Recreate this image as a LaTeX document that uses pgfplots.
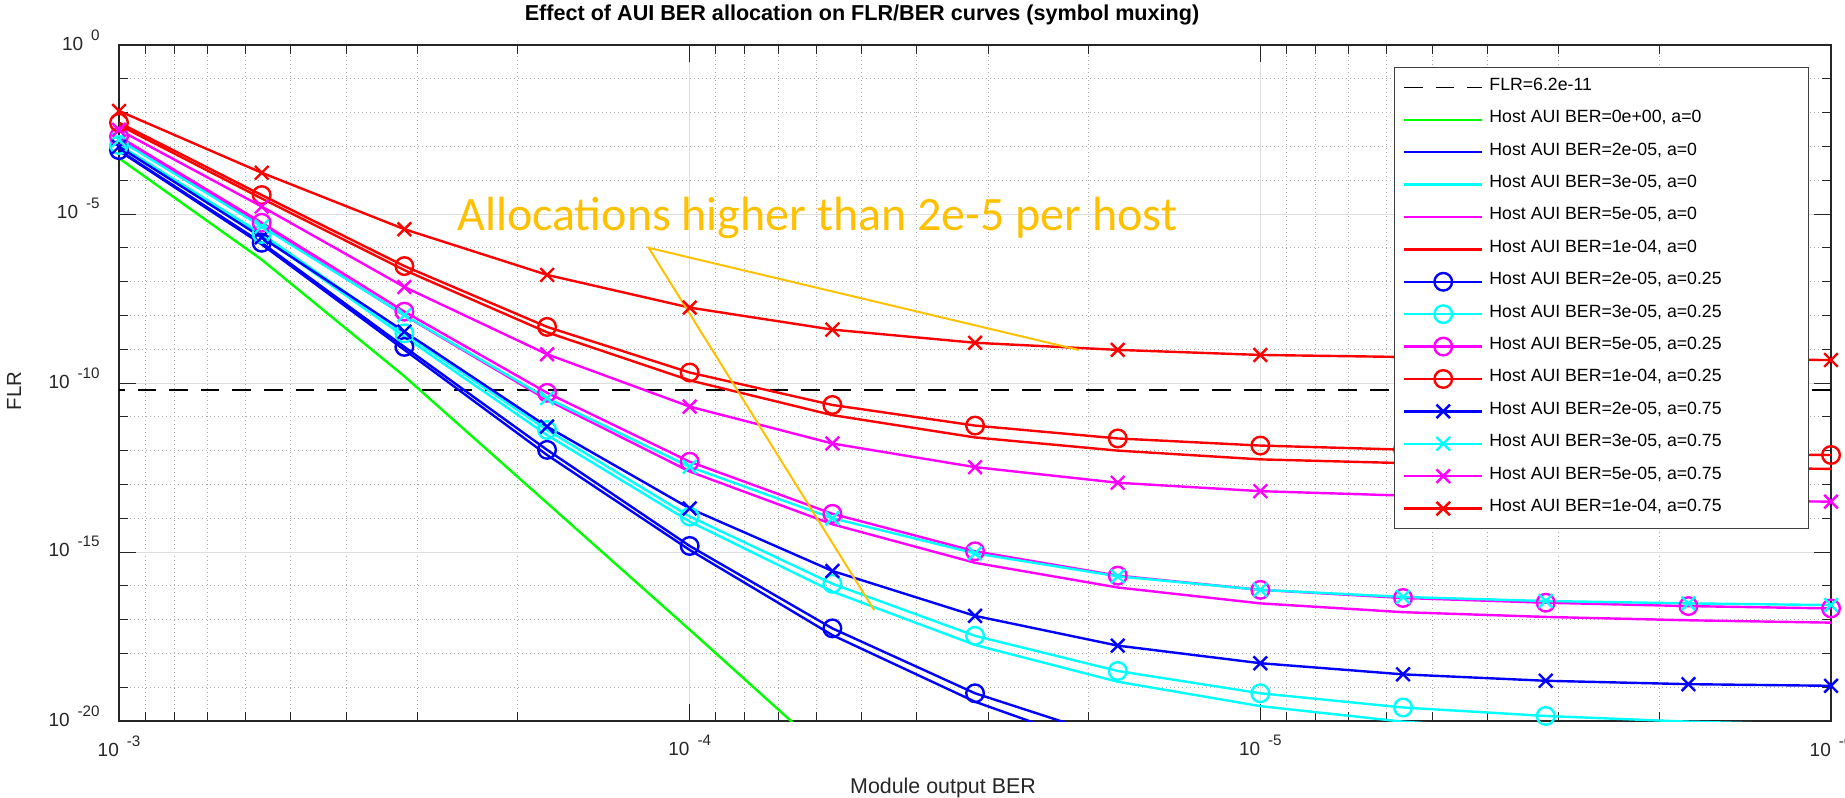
\documentclass[border=0pt]{standalone}
\usepackage{fontspec}
\setmainfont{Liberation Sans}
\newfontfamily\calib{Carlito}
\usepackage{pgfplots}
\pgfplotsset{compat=1.18}
\usepackage{pgfplotstable}

\definecolor{axgray}{RGB}{38,38,38}
\definecolor{gold}{RGB}{255,192,0}
\definecolor{mgreen}{RGB}{0,255,0}
\definecolor{mblue}{RGB}{0,0,255}
\definecolor{mcyan}{RGB}{0,255,255}
\definecolor{mmag}{RGB}{255,0,255}
\definecolor{mred}{RGB}{255,0,0}

\newcommand{\tl}[1]{{\fontsize{9.5}{10}\selectfont 10}\hspace{4pt}\raisebox{5pt}{\fontsize{7.6}{8}\selectfont #1}}
\newcommand{\lgd}[1]{\makebox[155pt][l]{\rule[-4pt]{0pt}{11pt}#1}}

\pgfplotstableread{
x        g        b0       c0       m0       r0       b25      c25      m25      r25      b75      c75      m75      r75
1e-3     4.47e-4  7.41e-4  1.02e-3  1.78e-3  4.27e-3  7.76e-4  1.10e-3  1.95e-3  5.01e-3  9.77e-4  1.55e-3  3.09e-3  1.12e-2
5.623e-4 4.47e-7  1.26e-6  2.24e-6  4.68e-6  2.88e-5  1.41e-6  2.57e-6  5.50e-6  3.63e-5  2.04e-6  4.27e-6  1.66e-5  1.66e-4
3.162e-4 1.58e-10 9.55e-10 2.34e-9  1.00e-8  2.19e-7  1.17e-9  2.95e-9  1.29e-8  2.88e-7  3.31e-9  1.02e-8  6.92e-8  3.55e-6
1.778e-4 2.82e-14 7.41e-13 2.88e-12 3.16e-11 3.16e-9  1.05e-12 4.07e-12 5.13e-11 4.57e-9  5.13e-12 3.55e-11 7.08e-10 1.58e-7
1e-4     5.01e-18 1.15e-15 7.94e-15 2.40e-13 1.20e-10 1.51e-15 1.12e-14 4.68e-13 2.04e-10 1.95e-14 3.31e-13 2.00e-11 1.70e-8
5.623e-5 7.94e-22 3.47e-18 6.76e-17 6.61e-15 1.12e-11 5.50e-18 1.15e-16 1.35e-14 2.24e-11 2.75e-16 1.00e-14 1.62e-12 3.80e-9
3.162e-5 1.00e-25 3.72e-20 1.78e-18 4.79e-16 2.45e-12 6.61e-20 3.31e-18 1.05e-15 5.50e-12 1.29e-17 9.12e-16 3.24e-13 1.55e-9
1.778e-5 nan      1.17e-21 1.45e-19 8.91e-17 1.00e-12 2.82e-21 3.02e-19 2.00e-16 2.29e-12 1.70e-18 1.91e-16 1.12e-13 9.55e-10
1e-5     nan      1.26e-22 2.75e-20 3.02e-17 5.50e-13 3.98e-22 6.61e-20 7.59e-17 1.41e-12 5.13e-19 7.59e-17 6.31e-14 6.76e-10
5.623e-6 nan      3.16e-23 9.55e-21 1.66e-17 4.27e-13 1.26e-22 2.51e-20 4.37e-17 1.07e-12 2.40e-19 4.68e-17 4.68e-14 5.89e-10
3.162e-6 nan      1.26e-23 5.01e-21 1.20e-17 3.63e-13 6.31e-23 1.41e-20 3.16e-17 9.12e-13 1.55e-19 3.55e-17 3.89e-14 5.37e-10
1.778e-6 nan      7.94e-24 3.55e-21 9.55e-18 3.16e-13 3.98e-23 9.55e-21 2.51e-17 8.13e-13 1.23e-19 3.02e-17 3.39e-14 5.01e-10
1e-6     nan      6.31e-24 2.82e-21 8.13e-18 2.88e-13 3.16e-23 7.59e-21 2.14e-17 7.41e-13 1.10e-19 2.69e-17 3.09e-14 4.79e-10
}\data

\begin{document}
\begin{tikzpicture}
\begin{axis}[
  name=ax, at={(0,0)}, anchor=south west,
  scale only axis, width=856pt, height=338pt,
  xmode=log, ymode=log, x dir=reverse,
  xmin=1e-6, xmax=1e-3, ymin=1e-20, ymax=1,
  xtick={1e-6,1e-5,1e-4,1e-3},
  xticklabels={\tl{-6},\tl{-5},\tl{-4},\tl{-3}},
  minor xtick={2e-6,3e-6,4e-6,5e-6,6e-6,7e-6,8e-6,9e-6,2e-5,3e-5,4e-5,5e-5,6e-5,7e-5,8e-5,9e-5,2e-4,3e-4,4e-4,5e-4,6e-4,7e-4,8e-4,9e-4},
  ytick={1e-20,1e-15,1e-10,1e-5,1},
  yticklabels={\tl{-20},\tl{-15},\tl{-10},\tl{-5},\tl{0}},
  minor ytick={1e-19,1e-18,1e-17,1e-16,1e-14,1e-13,1e-12,1e-11,1e-9,1e-8,1e-7,1e-6,1e-4,1e-3,1e-2,1e-1},
  tick align=inside, xtick pos=both, ytick pos=both,
  major tick length=8.5pt, minor tick length=4.5pt,
  every tick/.style={axgray, line width=0.5pt},
  axis line style={axgray, line width=0.65pt},
  grid=both,
  major grid style={black!13, line width=0.5pt},
  minor grid style={black!33, line width=0.5pt, dash pattern=on 0.5pt off 1.5pt},
  xticklabel style={inner sep=0pt, anchor=north, yshift=-7pt, text=axgray},
  yticklabel style={inner sep=0pt, anchor=east, xshift=-9.5pt, yshift=2.6pt, text=axgray},
  title={Effect of AUI BER allocation on FLR/BER curves (symbol muxing)},
  title style={at={(axis description cs:0.434,1.036)}, anchor=base, yshift=-6pt, inner sep=0pt, font=\fontsize{10.8}{12}\selectfont\bfseries},
  xlabel={Module output BER},
  xlabel style={at={(axis description cs:0.4813,-0.1065)}, anchor=base, inner sep=0pt, font=\fontsize{10.7}{12}\selectfont, text=axgray},
  ylabel={FLR},
  ylabel style={at={(axis description cs:-0.0613,0.488)}, anchor=center, inner sep=0pt, font=\fontsize{10.2}{12}\selectfont, text=axgray},
  legend cell align=left,
  legend style={at={(0.9871,0.9675)}, anchor=north east, draw=black!75, line width=0.5pt, fill=white,
    inner xsep=4.5pt, inner ysep=4.45pt, row sep=5.2pt, column sep=3pt,
    nodes={inner sep=0pt, text depth=}, font=\fontsize{8.85}{10}\selectfont},
  legend image code/.code={\draw[mark repeat=2,mark phase=2,#1] plot coordinates {(0pt,0pt) (19.5pt,0pt) (39pt,0pt)};},
  every axis plot/.append style={line width=1.2pt},
]
\addplot[black, line width=0.6pt, dash pattern=on 9.3pt off 6.5pt] coordinates {(1e-6,6.2e-11) (1e-3,6.2e-11)};
\addlegendentry{\lgd{FLR=6.2e-11}}
\addplot[mgreen] table[x=x,y=g]{\data};
\addlegendentry{\lgd{Host AUI BER=0e+00, a=0}}
\addplot[mblue] table[x=x,y=b0]{\data};
\addlegendentry{\lgd{Host AUI BER=2e-05, a=0}}
\addplot[mcyan] table[x=x,y=c0]{\data};
\addlegendentry{\lgd{Host AUI BER=3e-05, a=0}}
\addplot[mmag] table[x=x,y=m0]{\data};
\addlegendentry{\lgd{Host AUI BER=5e-05, a=0}}
\addplot[mred] table[x=x,y=r0]{\data};
\addlegendentry{\lgd{Host AUI BER=1e-04, a=0}}
\addplot[mblue, mark=o, mark size=4.4pt] table[x=x,y=b25]{\data};
\addlegendentry{\lgd{Host AUI BER=2e-05, a=0.25}}
\addplot[mcyan, mark=o, mark size=4.4pt] table[x=x,y=c25]{\data};
\addlegendentry{\lgd{Host AUI BER=3e-05, a=0.25}}
\addplot[mmag, mark=o, mark size=4.4pt] table[x=x,y=m25]{\data};
\addlegendentry{\lgd{Host AUI BER=5e-05, a=0.25}}
\addplot[mred, mark=o, mark size=4.4pt] table[x=x,y=r25]{\data};
\addlegendentry{\lgd{Host AUI BER=1e-04, a=0.25}}
\addplot[mblue, mark=x, mark size=4.8pt] table[x=x,y=b75]{\data};
\addlegendentry{\lgd{Host AUI BER=2e-05, a=0.75}}
\addplot[mcyan, mark=x, mark size=4.8pt] table[x=x,y=c75]{\data};
\addlegendentry{\lgd{Host AUI BER=3e-05, a=0.75}}
\addplot[mmag, mark=x, mark size=4.8pt] table[x=x,y=m75]{\data};
\addlegendentry{\lgd{Host AUI BER=5e-05, a=0.75}}
\addplot[mred, mark=x, mark size=4.8pt] table[x=x,y=r75]{\data};
\addlegendentry{\lgd{Host AUI BER=1e-04, a=0.75}}
\draw[gold, line width=1pt] (axis cs:2.08e-5,9.5e-10) -- (axis cs:1.18e-4,1e-6) -- (axis cs:4.75e-5,1.9e-17);
\node[anchor=base west, inner sep=0pt, text=gold, font=\calib\fontsize{24}{28}\selectfont] at (axis cs:2.557e-4,3.36e-6) {Allocations higher than 2e-5 per host};
\end{axis}
\pgfresetboundingbox
\path (-59.5pt,-38pt) rectangle (863pt,360.5pt);
\end{tikzpicture}
\end{document}
